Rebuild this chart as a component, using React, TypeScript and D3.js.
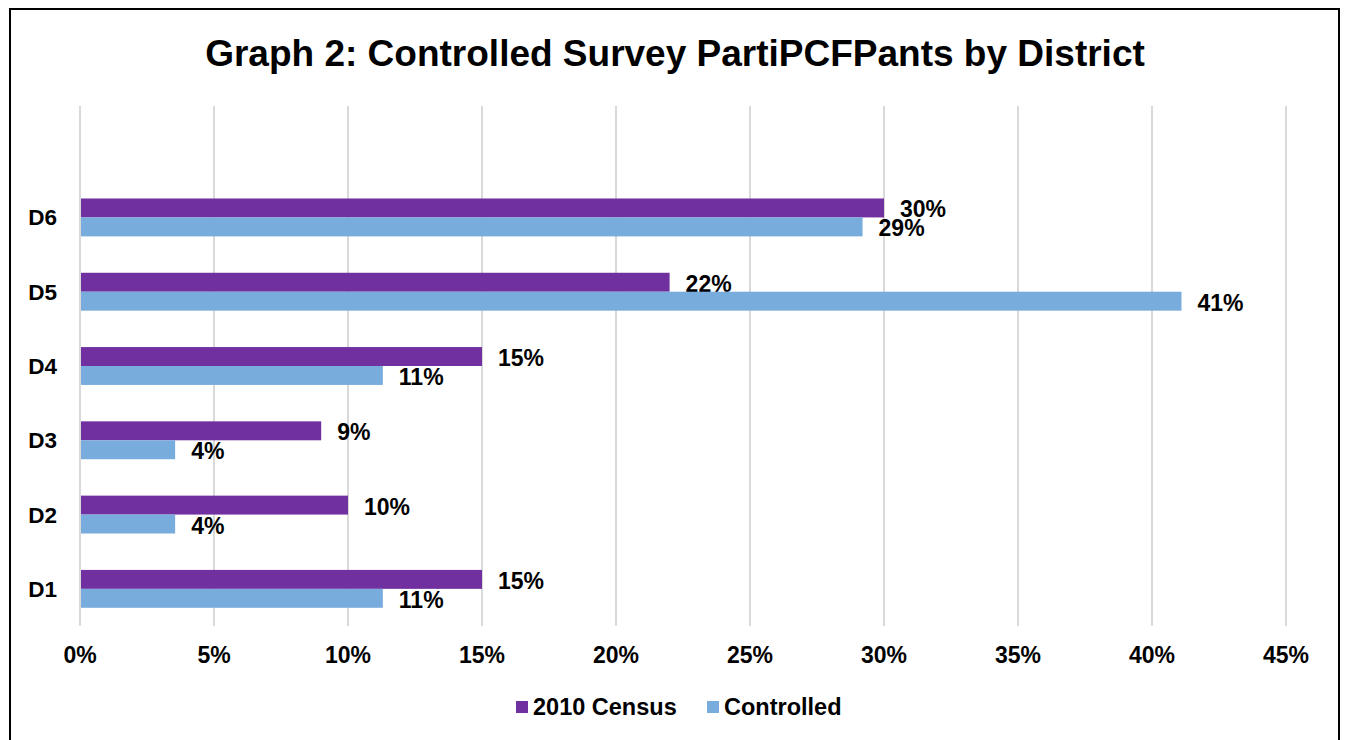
import React, { useEffect, useRef } from 'react';
import * as d3 from 'd3';

const districts = ['D1', 'D2', 'D3', 'D4', 'D5', 'D6'];
const census2010 = [15.0, 10.0, 9.0, 15.0, 22.0, 30.0];
const controlled = [11.3, 3.55, 3.55, 11.3, 41.1, 29.2];
const xTicks = [0, 5, 10, 15, 20, 25, 30, 35, 40, 45];
const seriesNames = ['2010 Census', 'Controlled'];
const seriesColors = ['#7030a0', '#78acdd'];

const W = 1347;
const H = 740;

function Chart() {
	const ref = useRef<SVGSVGElement>(null);

	useEffect(() => {
		const svg = d3.select(ref.current);
		svg.selectAll('*').remove();

		const left = 80;
		const right = 1286;
		const top = 106;
		const bottom = 626;
		const font = '"Liberation Sans", Arial, sans-serif';

		// frame
		svg.append('rect')
			.attr('x', 10).attr('y', 9)
			.attr('width', 1329).attr('height', 760)
			.attr('fill', '#fff')
			.attr('stroke', '#000')
			.attr('stroke-width', 2);

		svg.append('text')
			.text('Graph 2: Controlled Survey PartiPCFPants by District')
			.attr('x', 675).attr('y', 66)
			.attr('text-anchor', 'middle')
			.attr('font-family', font)
			.attr('font-weight', 'bold')
			.attr('font-size', '37px');

		const x = d3.scaleLinear().domain([0, 45]).range([left, right]);
		// 7 slots, top one left empty like the original
		const bandH = (bottom - top) / 7;
		const y = d3.scaleBand().domain(districts).range([bottom, bottom - 6 * bandH]).paddingInner(0.49).paddingOuter(0.245);

		svg.append('g')
			.selectAll('line')
			.data(xTicks)
			.enter()
			.append('line')
			.attr('x1', d => x(d)).attr('x2', d => x(d))
			.attr('y1', top).attr('y2', bottom)
			.attr('stroke', '#d9d9d9')
			.attr('stroke-width', 2);

		svg.append('g')
			.selectAll('text')
			.data(xTicks)
			.enter()
			.append('text')
			.text(d => d + '%')
			.attr('x', d => x(d))
			.attr('y', 663)
			.attr('text-anchor', 'middle')
			.attr('font-family', font)
			.attr('font-weight', 'bold')
			.attr('font-size', '23px');

		svg.append('g')
			.selectAll('text')
			.data(districts)
			.enter()
			.append('text')
			.text(d => d)
			.attr('x', 57)
			.attr('y', d => (y(d) as number) + y.bandwidth() / 2 + 8)
			.attr('text-anchor', 'end')
			.attr('font-family', font)
			.attr('font-weight', 'bold')
			.attr('font-size', '22.5px');

		const series = [census2010, controlled];
		const bh = y.bandwidth() / 2;
		series.forEach((vals, s) => {
			const g = svg.append('g');
			g.selectAll('rect')
				.data(vals)
				.enter()
				.append('rect')
				.attr('x', x(0) + 1)
				.attr('y', (d, i) => (y(districts[i]) as number) + s * bh)
				.attr('width', d => x(d) - x(0) - 1)
				.attr('height', bh)
				.attr('fill', seriesColors[s]);
			g.selectAll('text')
				.data(vals)
				.enter()
				.append('text')
				.text(d => Math.round(d) + '%')
				.attr('x', d => x(d) + 16)
				.attr('y', (d, i) => (y(districts[i]) as number) + s * bh + bh / 2 + 9.5)
				.attr('font-family', font)
				.attr('font-weight', 'bold')
				.attr('font-size', '23px');
		});

		// legend
		const legendX = [516, 707];
		seriesNames.forEach((name, i) => {
			svg.append('rect')
				.attr('x', legendX[i]).attr('y', 701)
				.attr('width', 12).attr('height', 12)
				.attr('fill', seriesColors[i]);
			svg.append('text')
				.text(name)
				.attr('x', legendX[i] + 17).attr('y', 715)
				.attr('font-family', font)
				.attr('font-weight', 'bold')
				.attr('font-size', '23.5px');
		});
	}, []);

	return <svg ref={ref} width={W} height={H} style={{ position: 'absolute', left: 0, top: 0 }} />;
}

export default function App() {
	return <Chart />;
}
